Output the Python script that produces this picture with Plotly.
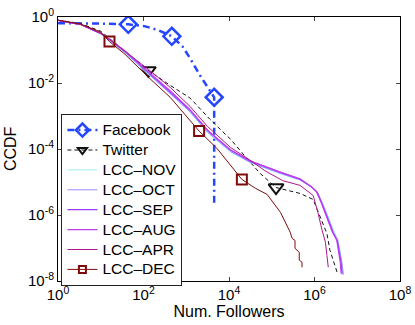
import plotly.graph_objects as go

# Facebook
fb_x = [1, 3.3, 10, 44, 110, 220, 460, 810, 1230, 2100, 3200, 4500, 4500]
fb_y = [0.65, 0.65, 0.63, 0.60, 0.52, 0.40, 0.26, 0.13, 0.056, 0.017, 7.4e-3, 3.7e-3, 2.2e-6]
fb_mx = [44, 460, 4500]
fb_my = [0.60, 0.26, 3.7e-3]

# Twitter
tw_x = [1, 3.3, 10, 32, 130, 420, 1230, 3600, 1.1e4, 2.6e4, 5.4e4, 1.26e5, 4.6e5,
        9.3e5, 1.35e6, 1.95e6, 2.3e6, 3.0e6, 3.4e6]
tw_y = [0.80, 0.64, 0.37, 0.105, 0.024, 8.5e-3, 3.5e-3, 7.9e-4, 1.95e-4, 5.2e-5, 1.8e-5,
        6.8e-6, 4.5e-6, 2.95e-6, 9.5e-7, 2.75e-7, 8.5e-8, 3.0e-8, 1.8e-8]
tw_mx = [130, 1.26e5]
tw_my = [0.024, 6.8e-6]

# LCC snapshots
nov_x = [1, 3.3, 10, 16, 37, 130, 420, 1230, 3100, 1.1e4, 3.1e4, 1.55e5, 4.6e5, 9.0e5,
         1.2e6, 1.6e6, 2.3e6, 2.9e6, 3.6e6, 4.0e6, 4.5e6, 4.8e6]
nov_y = [0.79, 0.60, 0.31, 0.19, 0.080, 0.018, 4.8e-3, 1.3e-3, 3.2e-4, 8.0e-5, 3.9e-5, 1.8e-5,
         1.15e-5, 6.7e-6, 4.7e-6, 2.1e-6, 6.6e-7, 2.9e-7, 1.6e-7, 8.0e-8, 3.3e-8, 1.5e-8]
oct_x = [1, 3.3, 10, 16, 37, 130, 420, 1230, 3100, 1.1e4, 3.1e4, 1.55e5, 4.6e5, 8.9e5,
         1.18e6, 1.55e6, 2.2e6, 2.8e6, 3.5e6, 3.9e6, 4.4e6, 4.7e6]
oct_y = [0.79, 0.60, 0.31, 0.20, 0.084, 0.019, 5.0e-3, 1.35e-3, 3.3e-4, 8.4e-5, 4.0e-5, 1.85e-5,
         1.17e-5, 6.8e-6, 4.8e-6, 2.15e-6, 6.7e-7, 2.9e-7, 1.65e-7, 8.2e-8, 3.4e-8, 1.6e-8]
sep_x = [1, 3.3, 10, 16, 37, 130, 420, 1230, 3100, 1.1e4, 3.1e4, 1.55e5, 4.6e5, 8.7e5,
         1.15e6, 1.5e6, 2.1e6, 2.7e6, 3.4e6, 3.7e6, 4.2e6, 4.4e6]
sep_y = [0.79, 0.60, 0.32, 0.21, 0.091, 0.021, 5.6e-3, 1.5e-3, 3.7e-4, 9.1e-5, 4.3e-5, 1.95e-5,
         1.2e-5, 6.9e-6, 4.9e-6, 2.2e-6, 6.9e-7, 3.0e-7, 1.7e-7, 8.5e-8, 3.5e-8, 1.6e-8]
aug_x = [1, 3.3, 10, 16, 37, 130, 420, 1230, 3100, 1.1e4, 3.1e4, 1.55e5, 4.6e5, 8.6e5,
         1.12e6, 1.45e6, 2.05e6, 2.6e6, 3.3e6, 3.6e6, 4.0e6, 4.2e6]
aug_y = [0.79, 0.60, 0.32, 0.21, 0.093, 0.022, 5.8e-3, 1.55e-3, 3.8e-4, 9.3e-5, 4.4e-5, 2.0e-5,
         1.25e-5, 7.1e-6, 5.0e-6, 2.3e-6, 7.2e-7, 3.1e-7, 1.75e-7, 8.8e-8, 3.7e-8, 1.7e-8]
apr_x = [1, 3.3, 10, 16, 37, 130, 420, 1230, 3100, 1.1e4, 3.1e4, 6.9e4, 1.8e5, 4.6e5,
         9.3e5, 1.2e6, 1.5e6, 1.8e6, 1.95e6, 2.1e6]
apr_y = [0.79, 0.60, 0.32, 0.21, 0.091, 0.026, 7.4e-3, 1.95e-3, 4.9e-4, 1.1e-4, 4.6e-5, 2.2e-5,
         1.1e-5, 7.9e-6, 3.9e-6, 1.2e-6, 3.5e-7, 1.5e-7, 6.0e-8, 2.6e-8]
dec_x = [1, 3.3, 10, 16, 37, 130, 420, 2000, 5200, 2.0e4, 4.1e4, 7.8e4, 1.6e5, 2.7e5,
         3.0e5, 3.5e5, 3.5e5, 4.4e5, 4.4e5, 5.1e5, 5.1e5]
dec_y = [0.80, 0.62, 0.35, 0.18, 0.074, 0.015, 3.7e-3, 3.5e-4, 1.05e-4, 1.2e-5, 6.5e-6, 4.2e-6,
         1.2e-6, 3.0e-7, 1.95e-7, 1.7e-7, 9.8e-8, 7.4e-8, 4.3e-8, 3.7e-8, 2.6e-8]
dec_mx = [16, 2000, 2.0e4]
dec_my = [0.18, 3.5e-4, 1.2e-5]

FONT = "Liberation Sans, Arial, Helvetica, sans-serif"

fig = go.Figure()


def leg(name):
    # bigger text than the legend font, so rows stay tight like the original
    return '<span style="font-size:15.5px">%s</span>' % name


def add_series(name, x, y, color, width, dash=None, mx=None, my=None,
               symbol=None, msize=12, mwidth=2, legsize=8):
    line = dict(color=color, width=width)
    if dash:
        line["dash"] = dash
    if mx is None:
        fig.add_trace(go.Scatter(x=x, y=y, mode="lines", name=leg(name), line=line))
        return
    fig.add_trace(go.Scatter(x=x, y=y, mode="lines", line=line,
                             legendgroup=name, showlegend=False, hoverinfo="skip"))
    fig.add_trace(go.Scatter(x=mx, y=my, mode="markers", legendgroup=name, showlegend=False,
                             marker=dict(symbol=symbol, size=msize, color=color,
                                         line=dict(color=color, width=mwidth))))
    # legend entry
    fig.add_trace(go.Scatter(x=[None], y=[None], mode="lines+markers", name=leg(name),
                             legendgroup=name, line=line,
                             marker=dict(symbol=symbol, size=legsize, color=color,
                                         line=dict(color=color, width=mwidth))))


add_series("Facebook", fb_x, fb_y, "#2446ff", 2.5, "7px,4px,2px,4px", fb_mx, fb_my,
           "diamond-open", 13, 2.5, 10)
add_series("Twitter", tw_x, tw_y, "#111111", 1, "4px,3px", tw_mx, tw_my,
           "triangle-down-open", 13, 2, 8)
add_series("LCC\u2013NOV", nov_x, nov_y, "#9ff0f6", 1)
add_series("LCC\u2013OCT", oct_x, oct_y, "#9c8cff", 1)
add_series("LCC\u2013SEP", sep_x, sep_y, "#9b3dff", 1.2)
add_series("LCC\u2013AUG", aug_x, aug_y, "#c23cf0", 1.2)
add_series("LCC\u2013APR", apr_x, apr_y, "#b0188a", 1)
add_series("LCC\u2013DEC", dec_x, dec_y, "#7f0c0c", 1, None, dec_mx, dec_my,
           "square-open", 10, 2, 7)

xt = [1, 1e2, 1e4, 1e6, 1e8]
yt = [1, 1e-2, 1e-4, 1e-6, 1e-8]

fig.update_xaxes(type="log", range=[0, 8], tickvals=xt,
                 ticktext=["10<sup>%d</sup>" % e for e in [0, 2, 4, 6, 8]],
                 ticks="inside", ticklen=4, tickcolor="#444", showgrid=False,
                 zeroline=False, showline=True, linecolor="black", linewidth=1,
                 mirror="ticks", tickfont=dict(size=15, color="black"), automargin=False,
                 ticklabeloverflow="allow",
                 title=dict(text="Num. Followers", font=dict(size=16, color="black"),
                            standoff=0))
fig.update_yaxes(type="log", range=[-8, 0], tickvals=yt,
                 ticktext=["10<sup>%d</sup>" % e for e in [0, -2, -4, -6, -8]],
                 ticks="inside", ticklen=4, tickcolor="#444", showgrid=False,
                 zeroline=False, showline=True, linecolor="black", linewidth=1,
                 mirror="ticks", tickfont=dict(size=15, color="black"), automargin=False,
                 ticklabeloverflow="allow")

fig.add_annotation(text="CCDF", xref="paper", yref="paper", x=-0.14, y=0.5,
                   xanchor="center", yanchor="middle", textangle=-90, showarrow=False,
                   font=dict(size=16, color="black"))

fig.update_layout(
    width=415, height=325,
    margin=dict(l=58, r=15, t=17, b=44),
    plot_bgcolor="white", paper_bgcolor="white",
    font=dict(family=FONT, color="black"),
    legend=dict(x=0.01, y=0.632, xanchor="left", yanchor="top",
                bgcolor="white", bordercolor="#222", borderwidth=1,
                font=dict(size=13, color="black"), itemwidth=30,
                tracegroupgap=0),
)

# drop the page's default body margin so the figure sits at the window corner
fig.write_html("out.html", config={"displayModeBar": False},
               post_script="document.body.style.margin='0';")
